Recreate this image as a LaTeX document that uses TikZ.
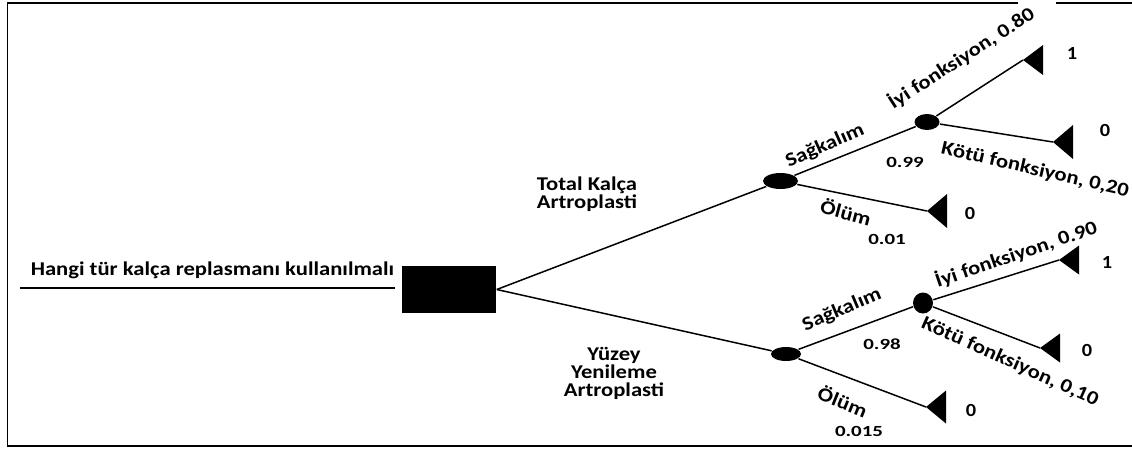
\documentclass[tikz,border=0pt]{standalone}
\usepackage{fontspec}
\setmainfont{Carlito}[FakeStretch=1.16,Numbers=Lining]
\newfontfamily\numfont{Carlito}[FakeStretch=1.35,Numbers=Lining]
\newfontfamily\payfont{Carlito}[FakeStretch=1.1,Numbers=Lining]
\usetikzlibrary{shapes.geometric}

\begin{document}
\begin{tikzpicture}[x=1pt,y=-1pt,line width=1.5pt,
  lbl/.style={font=\bfseries\fontsize{19.5}{18}\selectfont, inner sep=0pt, align=center},
  num/.style={font=\numfont\bfseries\fontsize{15.5}{16}\selectfont, inner sep=0pt},
  pay/.style={font=\payfont\bfseries\fontsize{18.5}{18}\selectfont, inner sep=0pt},
  chance/.style={ellipse, fill=black, draw=none, inner sep=0pt},
  decision/.style={rectangle, fill=black, draw=none, inner sep=0pt,
                   minimum width=94pt, minimum height=47pt},
  leaf/.pic={\fill[black] (0,0) -- (20,-#1) -- (20,#1) -- cycle;}
]
\useasboundingbox (0,0) rectangle (1132,448);

% frame
\draw[line width=1.8pt] (1018,3) -- (7.5,3) -- (7.5,446) -- (1132,446);
\draw[line width=1.8pt] (1056,3) -- (1132,3);

% decision and chance nodes
\node[decision] (dec) at (449,289.5) {};
\node[chance, minimum width=35pt, minimum height=16pt] (c1)  at (780.5,181) {};
\node[chance, minimum width=30pt, minimum height=14pt] (c2)  at (786,354) {};
\node[chance, minimum width=25pt, minimum height=16pt] (c11) at (927,122) {};
\node[chance, minimum width=20pt, minimum height=21pt] (c21) at (923,303) {};

% terminal tips
\coordinate (t11) at (1023,60);
\coordinate (t12) at (1053,142);
\coordinate (t13) at (927,211);
\coordinate (t21) at (1059,260);
\coordinate (t22) at (1040,348);
\coordinate (t23) at (926,407);
\path (t11) pic{leaf=15} (t12) pic{leaf=17} (t13) pic{leaf=17}
      (t21) pic{leaf=14.5} (t22) pic{leaf=14.5} (t23) pic{leaf=16.5};

% root line
\coordinate (r0) at (20,288);
\coordinate (r1) at (395,288);
\draw (r0) -- (r1);
\node[lbl, anchor=base west] (q) at (30,275) {Hangi tür kalça replasmanı kullanılmalı};

% branches
\draw (dec.east) -- (c1);
\draw (dec.east) -- (c2);
\draw (c1) -- (c11);
\draw (c1) -- (t13);
\draw (c11) -- (t11);
\draw (c11) -- (t12);
\draw (c2) -- (c21);
\draw (c2) -- (t23);
\draw (c21) -- (t21);
\draw (c21) -- (t22);

% branch labels
\node[lbl] (a1) at (587,194) {Total Kalça\\Artroplasti};
\node[lbl] (a2) at (614,373) {Yüzey\\Yenileme\\Artroplasti};

\node[lbl, rotate=24] (s1) at (825,146) {Sağkalım};
\node[num] (p1) at (905,162) {0.99};
\node[lbl, rotate=33] (g1) at (961,58) {İyi fonksiyon, 0.80};
\node[lbl, rotate=-13] (b1) at (1035,170) {Kötü fonksiyon, 0,20};
\node[lbl, rotate=-15] (d1) at (846,212) {Ölüm};
\node[num] (q1) at (887,239) {0.01};

\node[lbl, rotate=23] (s2) at (842,310) {Sağkalım};
\node[num] (p2) at (882,344) {0.98};
\node[lbl, rotate=19] (g2) at (1016,254) {İyi fonksiyon, 0.90};
\node[lbl, rotate=-24] (b2) at (1010,362) {Kötü fonksiyon, 0,10};
\node[lbl, rotate=-22] (d2) at (843,401) {Ölüm};
\node[num] (q2) at (859,431) {0.015};

% payoffs
\node[pay] (v11) at (1072,53) {1};
\node[pay] (v12) at (1105,130) {0};
\node[pay] (v13) at (970,213) {0};
\node[pay] (v21) at (1107,262) {1};
\node[pay] (v22) at (1087,350) {0};
\node[pay] (v23) at (971,410) {0};
\end{tikzpicture}
\end{document}
